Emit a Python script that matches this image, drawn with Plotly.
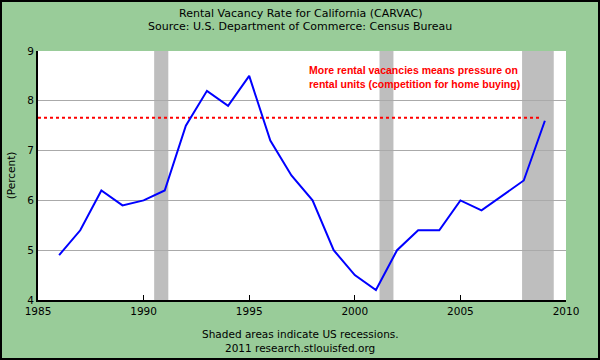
import plotly.graph_objects as go

years = list(range(1986, 2010))
vacancy = [4.9, 5.4, 6.2, 5.9, 6.0, 6.2, 7.5, 8.2, 7.9, 8.5, 7.2, 6.5,
           6.0, 5.0, 4.5, 4.2, 5.0, 5.4, 5.4, 6.0, 5.8, 6.1, 6.4, 7.6]

ref_x = [1985, 2008.85]
ref_y = [7.66, 7.66]

rec_start = [1990.5, 2001.17, 2007.92]
rec_end = [1991.17, 2001.83, 2009.42]

x_ticks = [1985, 1990, 1995, 2000, 2005, 2010]
y_ticks = [4, 5, 6, 7, 8, 9]

BG = "#99CC99"
FONT = "DejaVu Sans"

fig = go.Figure()

for s, e in zip(rec_start, rec_end):
    fig.add_vrect(x0=s, x1=e, fillcolor="#BEBEBE", opacity=1, line_width=0, layer="below")

fig.add_trace(go.Scatter(x=ref_x, y=ref_y, mode="lines",
                         line=dict(color="#FF0000", width=2, dash="dot"),
                         hoverinfo="skip", showlegend=False))
fig.add_trace(go.Scatter(x=years, y=vacancy, mode="lines",
                         line=dict(color="#0000FF", width=2),
                         showlegend=False))

fig.update_layout(
    width=600, height=360,
    margin=dict(l=38, r=34, t=51, b=60, autoexpand=False),
    paper_bgcolor=BG, plot_bgcolor="white",
    font=dict(family=FONT, size=10.5, color="black"),
    showlegend=False,
)

fig.update_xaxes(range=[1985, 2010], tickvals=x_ticks, showgrid=False,
                 showline=True, linecolor="black", linewidth=2,
                 ticks="inside", ticklen=5, tickcolor="black", tickwidth=1,
                 zeroline=False, tickfont=dict(family=FONT, size=10.5))
fig.update_yaxes(range=[4, 9], tickvals=y_ticks, showgrid=True,
                 gridcolor="#AAAAAA", gridwidth=1,
                 showline=True, linecolor="black", linewidth=2,
                 ticks="", zeroline=False,
                 title=dict(text="(Percent)", font=dict(family=FONT, size=10.5), standoff=10),
                 tickfont=dict(family=FONT, size=10.5))

W = 528.0
H = 249.0
def px(x):
    return (x - 38) / W
def py(y):
    return (300 - y) / H

anns = [
    ("Rental Vacancy Rate for California (CARVAC)", 300, 13, 11),
    ("Source: U.S. Department of Commerce: Census Bureau", 300, 26, 11),
    ("Shaded areas indicate US recessions.", 300, 334, 10.5),
    ("2011 research.stlouisfed.org", 300, 348, 10.5),
]
for t, x, y, s in anns:
    fig.add_annotation(text=t, xref="paper", yref="paper", x=px(x), y=py(y),
                       xanchor="center", yanchor="middle", showarrow=False,
                       font=dict(family=FONT, size=s, color="black"))

fig.add_annotation(text="<b>More rental vacancies means pressure on<br>rental units (competition for home buying)</b>",
                   xref="x", yref="y", x=1997.75, y=8.48, xanchor="left", yanchor="middle",
                   align="left", showarrow=False,
                   font=dict(family="Liberation Sans", size=10.5, color="#FF0000"))

fig.add_shape(type="rect", xref="paper", yref="paper",
              x0=px(1), x1=px(599), y0=py(359), y1=py(1),
              line=dict(color="black", width=2), fillcolor="rgba(0,0,0,0)", layer="above")

fig.write_html("out.html", config={"displayModeBar": False},
               post_script="document.body.style.margin='0';document.body.style.padding='0';")
